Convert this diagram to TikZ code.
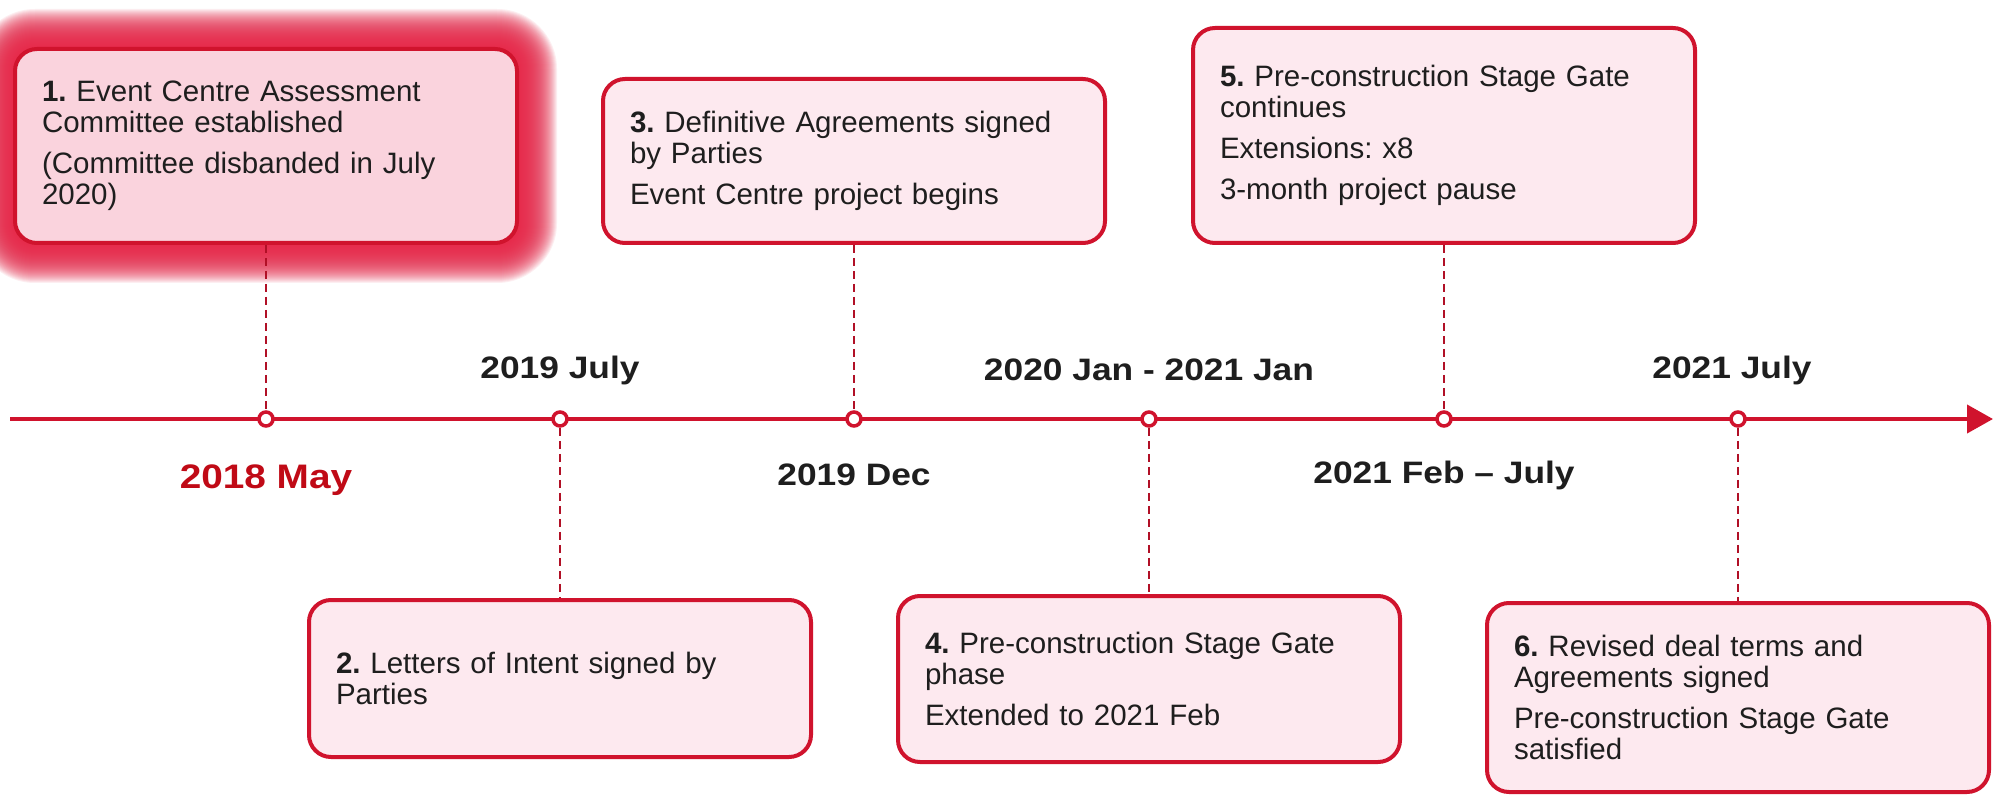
\documentclass[tikz,border=0pt]{standalone}
\usepackage{fontspec}
\setmainfont{Liberation Sans}
\newfontfamily\datefont{Liberation Sans}[FakeStretch=1.14]
\usetikzlibrary{arrows.meta,backgrounds,calc}
\definecolor{tlred}{HTML}{D0132D}
\definecolor{boxfill}{HTML}{FDE9EF}
\definecolor{boxfillA}{HTML}{FAD3DD}
\definecolor{glowred}{HTML}{E62648}
\definecolor{txt}{HTML}{1E1E1E}
\definecolor{maydark}{HTML}{C00A16}
\frenchspacing
\begin{document}
\begin{tikzpicture}[x=1pt,y=-1pt,
  evbox/.style={draw=tlred, line width=4pt, fill=boxfill, rounded corners=22pt,
    minimum width=502pt, text width=448pt, inner xsep=27pt, inner ysep=0pt,
    align=left, font=\fontsize{29.5}{31}\selectfont, text=txt},
  dot/.style={circle, draw=tlred, fill=white, line width=3.5pt, minimum size=14pt, inner sep=0pt},
  dashline/.style={draw=tlred!85!black, line width=2.2pt, dash pattern=on 8pt off 5pt},
  datelbl/.style={font=\datefont\bfseries\fontsize{31}{34}\selectfont, text=txt, inner sep=0pt},
  tline/.style={draw=tlred, line width=4pt, -{Triangle[length=26pt,width=28pt]}}
]
\begin{scope}[on background layer]
  \fill[white] (0,0) rectangle (2002,799);
\end{scope}
\useasboundingbox (0,0) rectangle (2002,799);

% timeline
\coordinate (tlstart) at (10,419);
\coordinate (tlend) at (1993,419);
\draw[tline] (tlstart) -- (tlend);

% dots
\node[dot] (c1) at (266,419) {};
\node[dot] (c2) at (560,419) {};
\node[dot] (c3) at (854,419) {};
\node[dot] (c4) at (1149,419) {};
\node[dot] (c5) at (1444,419) {};
\node[dot] (c6) at (1738,419) {};

% boxes
\node[evbox, fill=boxfillA, minimum height=194pt] (b1) at (266,146)
  {\textbf{1.} Event Centre Assessment\\ Committee established\\[10pt] (Committee disbanded in July\\ 2020)};
\node[evbox, minimum height=157pt] (b2) at (560,678.5)
  {\textbf{2.} Letters of Intent signed by\\ Parties};
\node[evbox, minimum height=164pt] (b3) at (854,161)
  {\textbf{3.} Definitive Agreements signed\\ by Parties\\[10pt] Event Centre project begins};
\node[evbox, minimum height=166pt] (b4) at (1149,679)
  {\textbf{4.} Pre-construction Stage Gate\\ phase\\[10pt] Extended to 2021 Feb};
\node[evbox, minimum height=215pt] (b5) at (1444,135.5)
  {\textbf{5.} Pre-construction Stage Gate\\ continues\\[10pt] Extensions: x8\\[10pt] 3-month project pause};
\node[evbox, minimum height=189pt] (b6) at (1738,697.5)
  {\textbf{6.} Revised deal terms and\\ Agreements signed\\[10pt] Pre-construction Stage Gate\\ satisfied};

% glow behind box 1
\begin{scope}[on background layer]
  \foreach \i in {1,...,38} {
    \pgfmathsetmacro\rr{22+\i}
    \fill[glowred, opacity=0.075, rounded corners=\rr pt]
      ($(b1.south west)+(-\i pt,-\i pt)$) rectangle ($(b1.north east)+(\i pt,\i pt)$);
  }
\end{scope}

% connectors
\draw[dashline] (b1.south) -- (c1.north);
\draw[dashline] (c2.south) -- (b2.north);
\draw[dashline] (b3.south) -- (c3.north);
\draw[dashline] (c4.south) -- (b4.north);
\draw[dashline] (b5.south) -- (c5.north);
\draw[dashline] (c6.south) -- (b6.north);

% dates
\node[datelbl, text=maydark, font=\datefont\bfseries\fontsize{34}{36}\selectfont] (d1) at (266,480) {2018 May};
\node[datelbl] (d2) at (560,370) {2019 July};
\node[datelbl] (d3) at (854,475) {2019 Dec};
\node[datelbl] (d4) at (1149,370) {2020 Jan - 2021 Jan};
\node[datelbl] (d5) at (1444,475) {2021 Feb – July};
\node[datelbl] (d6) at (1732,370) {2021 July};
\end{tikzpicture}
\end{document}
